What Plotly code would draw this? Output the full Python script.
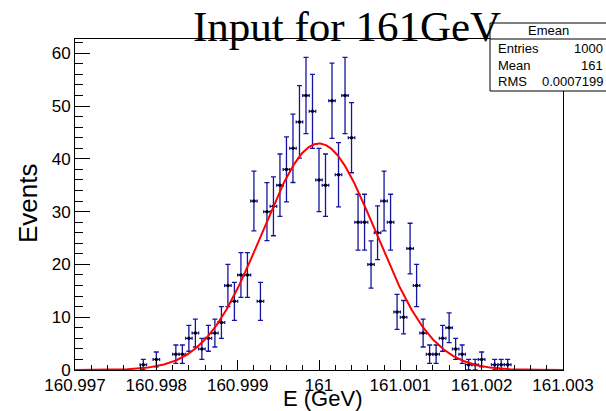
import numpy as np
import plotly.graph_objects as go

# Histogram "Emean": 75 bins between 160.997 and 161.003 GeV
x_lo, x_hi, n_bins = 160.997, 161.003, 75
counts = [0, 0, 0, 0, 0, 0, 0, 0, 0, 0,
          1, 0, 2, 0, 0, 3, 3, 6, 7, 4,
          6, 7, 9, 16, 13, 18, 18, 32, 13, 30,
          31, 35, 38, 42, 47, 52, 49, 36, 35, 51,
          37, 52, 44, 28, 28, 20, 26, 32, 28, 11,
          10, 23, 16, 7, 3, 3, 6, 8, 4, 3,
          1, 1, 2, 0, 1, 1, 1, 0, 0, 0,
          0, 0, 0, 0, 0]

# Gaussian fit parameters
fit_const, fit_mean, fit_sigma = 42.9, 161.0, 0.0007

# Axis ticks
x_tickvals = [160.997, 160.998, 160.999, 161.0, 161.001, 161.002, 161.003]
x_ticktext = ["160.997", "160.998", "160.999", "161", "161.001", "161.002", "161.003"]
y_tickvals = [0, 10, 20, 30, 40, 50, 60]

# Stats box entries
stats_name = "Emean"
stats_rows = [("Entries", "1000"), ("Mean", "161"), ("RMS", "0.0007199")]

W, H = 606, 411
L, R, T, B = 75, 43, 39, 41
pw, ph = W - L - R, H - T - B


def px(xp):
    return (xp - L) / pw


def py(yp):
    return (H - B - yp) / ph


bw = (x_hi - x_lo) / n_bins
centers = x_lo + bw * (np.arange(n_bins) + 0.5)
cnt = np.array(counts, dtype=float)
mask = cnt > 0
xc = centers[mask]
yc = cnt[mask]
yerr = np.sqrt(yc)

xf = np.linspace(x_lo, x_hi, 600)
yf = fit_const * np.exp(-0.5 * ((xf - fit_mean) / fit_sigma) ** 2)

err_color = "#1414a0"

fig = go.Figure()
fig.add_trace(go.Scatter(
    x=xc, y=yc, mode="markers",
    marker=dict(color="black", size=3.5),
    error_y=dict(type="data", array=yerr, visible=True, color=err_color,
                 thickness=1.3, width=2.5),
    error_x=dict(type="constant", value=bw / 2, visible=True, color=err_color,
                 thickness=1.3, width=1.5),
    showlegend=False, hoverinfo="skip",
))
fig.add_trace(go.Scatter(
    x=xf, y=yf, mode="lines", line=dict(color="#ff0000", width=2),
    showlegend=False, hoverinfo="skip",
))

label_font = dict(family="Liberation Sans, Arial, sans-serif", size=17, color="black")

fig.update_layout(
    width=W, height=H,
    margin=dict(l=L, r=R, t=T, b=B),
    paper_bgcolor="white", plot_bgcolor="white",
    xaxis=dict(
        range=[x_lo, x_hi], tickvals=x_tickvals, ticktext=x_ticktext,
        ticks="inside", ticklen=10, tickwidth=1, tickcolor="black",
        showline=True, linecolor="black", linewidth=1, mirror=True,
        showgrid=False, zeroline=False, tickfont=label_font,
        minor=dict(dtick=0.0002, tick0=x_lo, ticks="inside", ticklen=5,
                   tickcolor="black", tickwidth=1, showgrid=False),
    ),
    yaxis=dict(
        range=[0, 62.7], tickvals=y_tickvals,
        ticks="inside", ticklen=15, tickwidth=1, tickcolor="black",
        showline=True, linecolor="black", linewidth=1, mirror=True,
        showgrid=False, zeroline=False, tickfont=label_font,
        minor=dict(dtick=2, tick0=0, ticks="inside", ticklen=7.5,
                   tickcolor="black", tickwidth=1, showgrid=False),
    ),
)

# Stats box
bx0, bx1, by0, by1, bsep = 490, 612, 23, 91, 39
fig.add_shape(type="rect", xref="paper", yref="paper",
              x0=px(bx0), x1=px(bx1), y0=py(by1), y1=py(by0),
              line=dict(color="black", width=1), fillcolor="white", layer="above")
fig.add_shape(type="line", xref="paper", yref="paper",
              x0=px(bx0), x1=px(bx1), y0=py(bsep), y1=py(bsep),
              line=dict(color="black", width=1), layer="above")

stats_font = dict(family="Liberation Sans, Arial, sans-serif", size=13, color="black")
fig.add_annotation(x=px(548), y=py(31), xref="paper", yref="paper",
                   text=stats_name, showarrow=False, font=stats_font,
                   xanchor="center", yanchor="middle")
for i, (k, v) in enumerate(stats_rows):
    yy = py(49 + 16 * i)
    fig.add_annotation(x=px(496), y=yy, xref="paper", yref="paper", text=k,
                       showarrow=False, font=stats_font, xanchor="left", yanchor="middle")
    fig.add_annotation(x=px(605), y=yy, xref="paper", yref="paper", text=v,
                       showarrow=False, font=stats_font, xanchor="right", yanchor="middle")

# Title
fig.add_annotation(x=px(347), y=py(26), xref="paper", yref="paper",
                   text="Input for 161GeV", showarrow=False,
                   font=dict(family="Liberation Serif, Times New Roman, serif", size=43, color="black"),
                   xanchor="center", yanchor="middle")

# Axis titles
fig.add_annotation(x=px(28), y=py(203), xref="paper", yref="paper",
                   text="Events", showarrow=False, textangle=-90,
                   font=dict(family="Liberation Sans, Arial, sans-serif", size=26, color="black"),
                   xanchor="center", yanchor="middle")
fig.add_annotation(x=px(322), y=py(398), xref="paper", yref="paper",
                   text="E (GeV)", showarrow=False,
                   font=dict(family="Liberation Sans, Arial, sans-serif", size=22, color="black"),
                   xanchor="center", yanchor="middle")

fig.write_html("out.html")
